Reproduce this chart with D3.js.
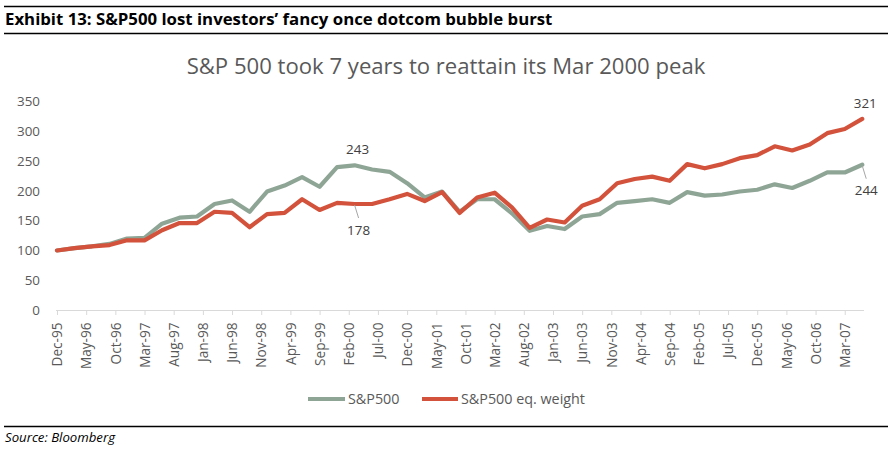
<!DOCTYPE html>
<html><head><meta charset="utf-8">
<script src="https://cdn.jsdelivr.net/npm/d3@7"></script>
<style>body{margin:0;background:#fff} svg{display:block} text{font-family:"Open Sans",sans-serif}</style>
</head><body><svg id="c" width="894" height="451"></svg>
<script>
const dates = ["Dec-95","Mar-96","Jun-96","Sep-96","Dec-96","Mar-97","Jun-97","Sep-97","Dec-97","Mar-98","Jun-98","Sep-98","Dec-98","Mar-99","Jun-99","Sep-99","Dec-99","Mar-00","Jun-00","Sep-00","Dec-00","Mar-01","Jun-01","Sep-01","Dec-01","Mar-02","Jun-02","Sep-02","Dec-02","Mar-03","Jun-03","Sep-03","Dec-03","Mar-04","Jun-04","Sep-04","Dec-04","Mar-05","Jun-05","Sep-05","Dec-05","Mar-06","Jun-06","Sep-06","Dec-06","Mar-07","Jun-07"];
const sp500 = [100,104,107,111,120,121,145,155,157,178,184,165,199,209,223,207,240,243,236,232,213,189,199,165,186,186,162,133,141,136,157,161,180,183,186,180,198,192,194,199,202,211,205,217,231,231,244];
const spEqWeight = [100,104,107,109,117,117,134,146,146,165,163,139,161,163,186,168,180,178,178,186,195,183,198,163,189,197,172,138,152,147,175,186,213,220,224,217,245,238,245,255,260,275,268,278,297,304,321];
const tickLabels = ["Dec-95","May-96","Oct-96","Mar-97","Aug-97","Jan-98","Jun-98","Nov-98","Apr-99","Sep-99","Feb-00","Jul-00","Dec-00","May-01","Oct-01","Mar-02","Aug-02","Jan-03","Jun-03","Nov-03","Apr-04","Sep-04","Feb-05","Jul-05","Dec-05","May-06","Oct-06","Mar-07"];
const yTicks = [0,50,100,150,200,250,300,350];
const seriesNames = ["S&P500","S&P500 eq. weight"];
const colors = ["#8ea596","#d3523b"];
const labels = [
  {series:0, date:"Mar-00", text:"243", pos:"above"},
  {series:1, date:"Mar-00", text:"178", pos:"belowLeader"},
  {series:1, date:"Jun-07", text:"321", pos:"above"},
  {series:0, date:"Jun-07", text:"244", pos:"belowLeader"}
];

const svg = d3.select("#c");
const parse = d3.timeParse("%b-%y");
const base = parse(dates[0]);
const mIdx = s => d3.timeMonth.count(base, parse(s));
const x = d3.scaleLinear().domain([0,138.3]).range([57,864]);
const y = d3.scaleLinear().domain([0,350]).range([310,101.6]);

function fit(sel, target){
  const n = sel.node(); const w = n.getComputedTextLength();
  const fs = parseFloat(sel.attr("font-size"));
  sel.attr("font-size", (fs*target/w).toFixed(2));
  return fs*target/w;
}

// rules
svg.append("line").attr("x1",4).attr("x2",888).attr("y1",6.5).attr("y2",6.5).attr("stroke","#000").attr("stroke-width",1.3);
svg.append("line").attr("x1",4).attr("x2",888).attr("y1",33.5).attr("y2",33.5).attr("stroke","#000").attr("stroke-width",1.3);
svg.append("line").attr("x1",4).attr("x2",888).attr("y1",426.5).attr("y2",426.5).attr("stroke","#000").attr("stroke-width",1.3);

const t1 = svg.append("text").attr("x",5).attr("y",25).attr("font-size",15).attr("font-weight","bold").attr("fill","#000")
  .text("Exhibit 13: S&P500 lost investors’ fancy once dotcom bubble burst");
fit(t1, 548);
const t2 = svg.append("text").attr("x",446).attr("y",74).attr("text-anchor","middle").attr("font-size",20).attr("fill","#595959")
  .text("S&P 500 took 7 years to reattain its Mar 2000 peak");
fit(t2, 519);
const src = svg.append("text").attr("x",5).attr("y",442).attr("font-size",12).attr("font-style","italic").attr("fill","#000")
  .text("Source: Bloomberg");
fit(src, 110);

// y labels
const yl = svg.append("g").selectAll("text").data(yTicks).join("text")
  .attr("x",40).attr("y",d=>y(d)).attr("dy","0.35em").attr("text-anchor","end")
  .attr("font-size",13).attr("fill","#595959").text(d=>d);
const ys = 13*23/yl.filter(d=>d===350).node().getComputedTextLength();
yl.attr("font-size",ys.toFixed(2));

// x axis
const xAxis = d3.axisBottom(x).tickValues(tickLabels.map(mIdx)).tickFormat((d,i)=>tickLabels[i]).tickSize(5).tickSizeOuter(0);
const gx = svg.append("g").attr("transform","translate(0,310)").call(xAxis);
gx.select(".domain").attr("stroke","#d9d9d9").attr("d","M56,0.5H864");
gx.selectAll(".tick line").attr("stroke","#d9d9d9");
const xt = gx.selectAll(".tick text").attr("transform","rotate(-90)").attr("text-anchor","end")
  .attr("x",-12.5).attr("y",0).attr("dy","0.35em").attr("fill","#595959").attr("font-family","'Open Sans',sans-serif").attr("font-size",12);
const xs = 12*44/xt.filter((d,i)=>i===0).node().getComputedTextLength();
xt.attr("font-size",xs.toFixed(2));

// lines
const allSeries = [sp500, spEqWeight];
const line = d3.line().x((d,i)=>x(mIdx(dates[i]))).y(d=>y(d));
allSeries.forEach((s,k)=>{
  svg.append("path").datum(s).attr("d",line).attr("fill","none").attr("stroke",colors[k])
    .attr("stroke-width",4.2).attr("stroke-linejoin","round").attr("stroke-linecap","round");
});

// data labels
labels.forEach(l=>{
  const i = dates.indexOf(l.date);
  const v = allSeries[l.series][i];
  const px = x(mIdx(l.date)), py = y(v);
  let tx, ty;
  if(l.pos==="above"){ tx = px+3; ty = py-16; }
  else {
    tx = px+4; ty = py+26;
    svg.append("line").attr("x1",px).attr("y1",py+1).attr("x2",px+4).attr("y2",py+14)
      .attr("stroke","#a6a6a6").attr("stroke-width",1);
  }
  svg.append("text").attr("x",tx).attr("y",ty).attr("dy","0.35em").attr("text-anchor","middle")
    .attr("font-size",ys.toFixed(2)).attr("fill","#404040").text(l.text);
});

// legend
const leg = [{x0:308,x1:345,tx:348},{x0:422,x1:458,tx:461}];
const legTexts = leg.map((g,k)=>{
  svg.append("line").attr("x1",g.x0).attr("x2",g.x1).attr("y1",399).attr("y2",399).attr("stroke",colors[k]).attr("stroke-width",4);
  return svg.append("text").attr("x",g.tx).attr("y",399).attr("dy","0.35em").attr("font-size",ys.toFixed(2)).attr("fill","#595959").text(seriesNames[k]);
});
const lfs = fit(legTexts[1], 124);
legTexts[0].attr("font-size", lfs.toFixed(2));
</script></body></html>
